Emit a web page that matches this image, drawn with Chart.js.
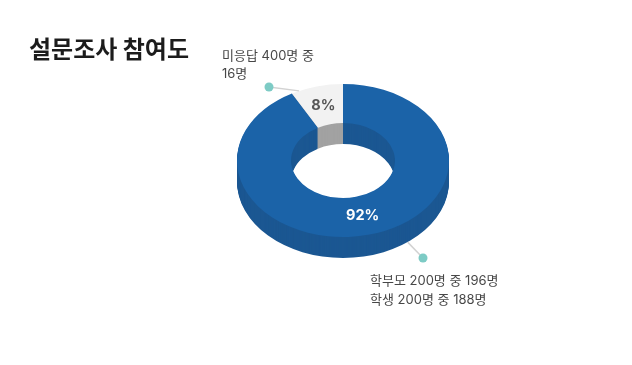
<!DOCTYPE html>
<html><head><meta charset="utf-8">
<script src="https://cdn.jsdelivr.net/npm/chart.js@4.4.1/dist/chart.umd.min.js"></script>
<style>html,body{margin:0;padding:0;background:#fff;}#wrap{width:632px;height:365px;position:relative}</style>
</head><body><div id="wrap"><canvas id="c" width="632" height="365"></canvas></div>
<script>
// ---- data ----
const chartTitle = '설문조사 참여도';
const categories = ['참여', '미응답'];
const percentValues = [92, 8];
const percentLabels = ['92%', '8%'];
const annotationLines = [
  ['학부모 200명 중 196명', '학생 200명 중 188명'],
  ['미응답 400명 중', '16명']
];

// ---- styles / layout ----
const topColors = ['#1b63a8', '#f2f2f2'];
const sideColors = ['#1b5792', '#a2a2a2'];
const labelColors = ['#ffffff', '#555555'];
const SY = 0.7217;
const DEPTH = 21;
const annoLayout = [
  {leaderFrac: 0.43, dot: [423, 258], text: [370, 281.5]},
  {leaderFrac: 0.15, dot: [269, 87], text: [222, 56]}
];
const KFONT = 'Inter, "Noto Sans CJK KR", sans-serif';

const pie3d = {
  id: 'pie3d',
  beforeDatasetsDraw(chart) {
    const ctx = chart.ctx;
    const arcs = chart.getDatasetMeta(0).data;
    for (let k = DEPTH; k >= 1; k--) {
      arcs.forEach((a, i) => {
        ctx.save();
        ctx.translate(a.x, a.y + k);
        ctx.scale(1, SY);
        ctx.beginPath();
        ctx.arc(0, 0, a.outerRadius, a.startAngle, a.endAngle);
        ctx.arc(0, 0, a.innerRadius, a.endAngle, a.startAngle, true);
        ctx.closePath();
        ctx.fillStyle = sideColors[i];
        ctx.fill();
        ctx.restore();
      });
    }
    const a = arcs[0];
    ctx.save();
    ctx.translate(a.x, a.y);
    ctx.scale(1, SY);
    ctx.translate(-a.x, -a.y);
  },
  afterDatasetsDraw(chart) {
    const ctx = chart.ctx;
    ctx.restore();
    const arcs = chart.getDatasetMeta(0).data;
    // percent labels
    arcs.forEach((a, i) => {
      const mid = (a.startAngle + a.endAngle) / 2;
      const r = (a.innerRadius + a.outerRadius) / 2;
      const x = a.x + Math.cos(mid) * r;
      const y = a.y + Math.sin(mid) * r * SY;
      ctx.save();
      ctx.font = 'bold 14.5px ' + KFONT;
      ctx.fillStyle = labelColors[i];
      ctx.textAlign = 'center';
      ctx.textBaseline = 'middle';
      ctx.fillText(percentLabels[i], x, y);
      ctx.restore();
    });
    // leaders + annotations
    arcs.forEach((a, i) => {
      const L = annoLayout[i];
      const ang = a.startAngle + L.leaderFrac * (a.endAngle - a.startAngle);
      const s = Math.sin(ang);
      const sx = a.x + Math.cos(ang) * a.outerRadius;
      const sy = a.y + s * a.outerRadius * SY + (s > 0 ? DEPTH : 0);
      ctx.save();
      ctx.strokeStyle = '#d2d2d2';
      ctx.lineWidth = 1.5;
      ctx.beginPath();
      ctx.moveTo(sx, sy);
      ctx.lineTo(L.dot[0], L.dot[1]);
      ctx.stroke();
      ctx.fillStyle = '#7dcbc5';
      ctx.beginPath();
      ctx.arc(L.dot[0], L.dot[1], 4.5, 0, Math.PI * 2);
      ctx.fill();
      ctx.font = '13px ' + KFONT;
      ctx.fillStyle = '#474747';
      ctx.textAlign = 'left';
      ctx.textBaseline = 'middle';
      annotationLines[i].forEach((t, j) => ctx.fillText(t, L.text[0], L.text[1] + j * 18.5));
      ctx.restore();
    });
  },
  afterDraw(chart) {
    const ctx = chart.ctx;
    ctx.save();
    ctx.font = 'bold 24px "Noto Sans CJK KR", sans-serif';
    ctx.fillStyle = '#1c1c1c';
    ctx.textAlign = 'left';
    ctx.textBaseline = 'middle';
    ctx.fillText(chartTitle, 29, 49);
    ctx.restore();
  }
};

new Chart(document.getElementById('c'), {
  type: 'doughnut',
  data: {
    labels: categories,
    datasets: [{
      data: percentValues,
      backgroundColor: topColors,
      borderWidth: 0,
      hoverOffset: 0,
      spacing: 0
    }]
  },
  options: {
    responsive: false,
    animation: false,
    cutout: '49%',
    rotation: 0,
    layout: {padding: {left: 237, right: 183, top: 54.5, bottom: 98.5}},
    events: [],
    plugins: {legend: {display: false}, tooltip: {enabled: false}, title: {display: false}}
  },
  plugins: [pie3d]
});
</script>
</body></html>
